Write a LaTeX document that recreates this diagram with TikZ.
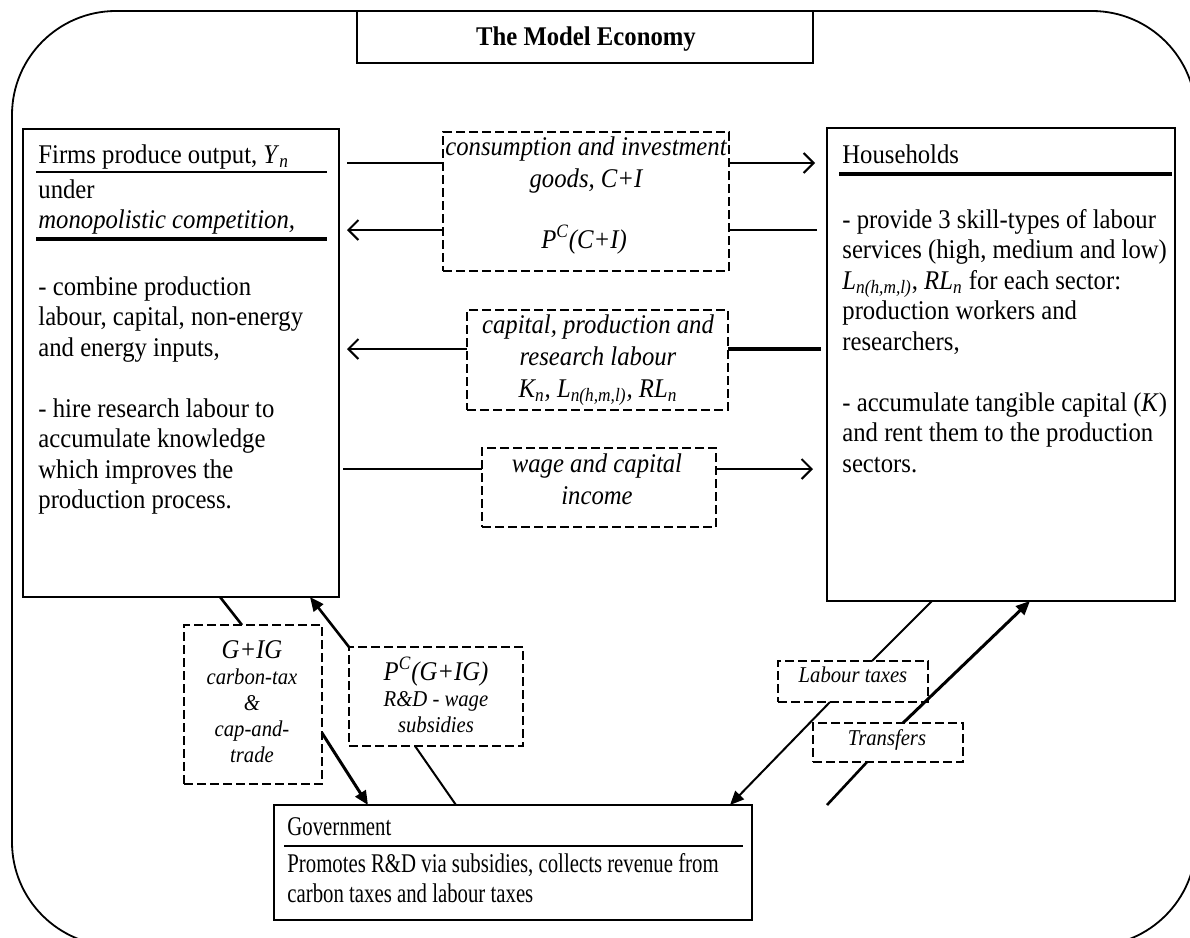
\documentclass[tikz,border=0pt]{standalone}
\usepackage{fontspec}
\setmainfont{Liberation Serif}[FakeStretch=0.915]
\newfontfamily\govfont{Liberation Serif}[FakeStretch=0.77]
\usetikzlibrary{arrows.meta, calc}

\newcommand{\mainsize}{\fontsize{13.5}{15.25}\selectfont}
\newcommand{\dashsize}{\fontsize{13.5}{16}\selectfont}
\newcommand{\smallsize}{\fontsize{11.3}{13}\selectfont}
\newcommand{\lns}[2][l]{\begin{tabular}[t]{@{}#1@{}}#2\end{tabular}}
\newcommand{\sub}[1]{\textsubscript{\textit{#1}}}

\begin{document}
\begin{tikzpicture}[x=0.5pt, y=-0.5pt,
  box/.style={draw, line width=0.75pt, inner sep=0pt, outer sep=0pt},
  dbox/.style={draw, line width=1.2pt, dash pattern=on 4.5pt off 2pt, inner sep=0pt, outer sep=0pt},
  txt/.style={anchor=base west, inner sep=0pt, font=\mainsize},
  ctxt/.style={anchor=base, inner sep=0pt, font=\dashsize\itshape},
  flow/.style={line width=1pt},
  harr/.style={flow, -{Straight Barb[length=5pt, width=10pt]}},
  darr/.style={-{Triangle[length=7pt, width=6pt]}}]
\clip (0,0) rectangle (1190,938);
% outer frame
\draw[line width=0.9pt, rounded corners=52pt] (12,11) rectangle (1196,946);
\node[box, line width=1pt, fill=white, minimum width=228pt, minimum height=26pt] (title) at (585,37) {};
\node[anchor=base, inner sep=0pt, font=\mainsize\bfseries] (titletxt) at (586,45) {The Model Economy};

% the three agents
\node[box, minimum width=158pt, minimum height=234pt] (firms) at (181,363) {};
\node[box, minimum width=174pt, minimum height=236.5pt] (hh) at (1001,364.5) {};
\node[box, minimum width=239pt, minimum height=57.5pt] (gov) at (513,862.5) {};

\node[txt] (firmshead) at (38,163) {Firms produce output, \textit{Y}\sub{n}};
\draw[line width=0.75pt] (36,172) -- (327,172);
\node[txt] (firmsmkt) at (38,198) {\lns{under\\ \textit{monopolistic competition,}}};
\draw[line width=2pt] (36,239) -- (327,239);
\node[txt] (firmsbody) at (38,295) {\lns{- combine production\\labour, capital, non-energy\\and energy inputs,\\ \\- hire research labour to\\accumulate knowledge\\which improves the\\production process.}};

\node[txt] (hhhead) at (842,163) {Households};
\draw[line width=2pt] (839,174) -- (1172,174);
\node[txt] (hhbody) at (842,228) {\lns{- provide 3 skill-types of labour\\services (high, medium and low)\\\textit{L}\sub{n(h,m,l)}, \textit{RL}\sub{n} for each sector:\\production workers and\\researchers,\\ \\- accumulate tangible capital (\textit{K})\\and rent them to the production\\sectors.}};

\node[txt, font=\mainsize\govfont] (govhead) at (287,835) {Government};
\draw[line width=0.75pt] (284,846) -- (743,846);
\node[txt, font=\mainsize\govfont] (govbody) at (287,872) {\lns{Promotes R\&D via subsidies, collects revenue from\\carbon taxes and labour taxes}};

% flows between firms and households
\node[dbox, minimum width=143pt, minimum height=69.5pt] (cig) at (586,201.5) {};
\node[ctxt] (cigtxt) at (586,155) {\lns[c]{consumption and investment\\goods, C+I}};
\node[ctxt] (pcctxt) at (584,248) {\textit{P}\textsuperscript{C}(C+I)};
\node[dbox, minimum width=130.5pt, minimum height=50pt] (klr) at (597.5,360) {};
\node[ctxt] (klrtxt) at (598,333) {\lns[c]{capital, production and\\research labour\\\textit{K}\sub{n}, \textit{L}\sub{n(h,m,l)}, \textit{RL}\sub{n}}};
\node[dbox, minimum width=117pt, minimum height=39.5pt] (wage) at (599,487.5) {};
\node[ctxt] (wagetxt) at (597,472) {\lns[c]{wage and capital\\income}};

\coordinate (f1) at (347,163); \coordinate (h1) at (815,163);
\coordinate (f2) at (347,230); \coordinate (h2) at (817,230);
\coordinate (f3) at (347,349); \coordinate (h3) at (821,349);
\coordinate (f4) at (343,469); \coordinate (h4) at (813,469);
\draw[flow] (f1) -- (f1 -| cig.west);
\draw[harr] (h1 -| cig.east) -- (h1);
\draw[harr] (f2 -| cig.west) -- (f2);
\draw[flow] (h2) -- (h2 -| cig.east);
\draw[harr] (f3 -| klr.west) -- (f3);
\draw[line width=2pt] (h3) -- (h3 -| klr.east);
\draw[flow] (f4) -- (f4 -| wage.west);
\draw[harr] (h4 -| wage.east) -- (h4);

% flows with the government
\node[dbox, minimum width=69pt, minimum height=79.5pt] (gig) at (253,704.5) {};
\node[ctxt, font=\smallsize\itshape] (gigtxt) at (252,658) {\lns[c]{\mainsize G+IG\\ \smallsize carbon-tax\\\&\\cap-and-\\trade}};
\node[dbox, minimum width=87pt, minimum height=49.5pt] (pgig) at (436,696.5) {};
\node[ctxt, font=\smallsize\itshape] (pgigtxt) at (436,680) {\lns[c]{\mainsize\textit{P}\textsuperscript{C}(G+IG)\\ \smallsize R\&D - wage\\subsidies}};
\node[dbox, minimum width=75pt, minimum height=20.5pt] (labtax) at (853,681.5) {};
\node[ctxt, font=\smallsize\itshape] (labtaxtxt) at (853,682) {Labour taxes};
\node[dbox, minimum width=75pt, minimum height=19.5pt] (transf) at (888,742.5) {};
\node[ctxt, font=\smallsize\itshape] (transftxt) at (887,745) {Transfers};

\draw[line width=1.3pt] (firms.south -| 220,0) -- (gig.north -| 242,0);
\draw[line width=1.5pt, darr] (gig.east |- 0,733) -- (gov.north -| 368,0);
\draw[line width=1.3pt, darr] (pgig.north west) -- (firms.south -| 310,0);
\draw[flow] (pgig.south -| 415,0) -- (gov.north -| 456,0);
\draw[flow] (hh.south -| 932,0) -- (labtax.north -| 872,0);
\draw[flow, darr] (labtax.south -| 830,0) -- (gov.north -| 730,0);
\draw[line width=1.3pt] (gov.north -| 827,0) -- (transf.south -| 867,0);
\draw[line width=1.5pt, darr] (transf.north -| 903,0) -- (hh.south -| 1030,0);
\end{tikzpicture}
\end{document}
